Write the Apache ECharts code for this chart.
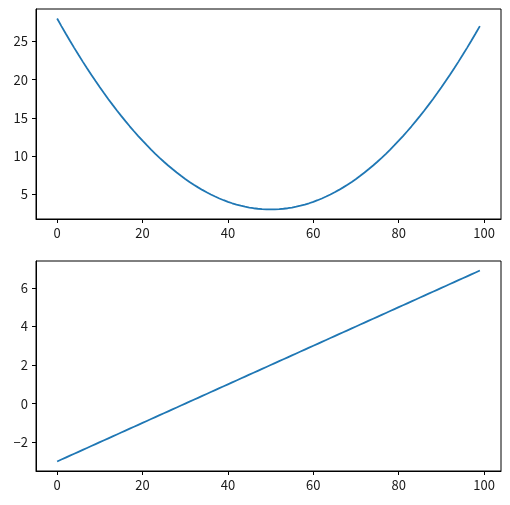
<!DOCTYPE html>
<html>
<head>
<meta charset="utf-8">
<script src="https://cdn.jsdelivr.net/npm/echarts@6/dist/echarts.min.js"></script>
<style>html,body{margin:0;padding:0;background:#fff}#c{width:510px;height:505px}</style>
</head>
<body>
<div id="c"></div>
<script>
const xValues = Array.from({length: 100}, (_, i) => i);
const topValues = [28, 27.01, 26.04, 25.09, 24.16, 23.25, 22.36, 21.49, 20.64, 19.81,
  19, 18.21, 17.44, 16.69, 15.96, 15.25, 14.56, 13.89, 13.24, 12.61,
  12, 11.41, 10.84, 10.29, 9.76, 9.25, 8.76, 8.29, 7.84, 7.41,
  7, 6.61, 6.24, 5.89, 5.56, 5.25, 4.96, 4.69, 4.44, 4.21,
  4, 3.81, 3.64, 3.49, 3.36, 3.25, 3.16, 3.09, 3.04, 3.01,
  3, 3.01, 3.04, 3.09, 3.16, 3.25, 3.36, 3.49, 3.64, 3.81,
  4, 4.21, 4.44, 4.69, 4.96, 5.25, 5.56, 5.89, 6.24, 6.61,
  7, 7.41, 7.84, 8.29, 8.76, 9.25, 9.76, 10.29, 10.84, 11.41,
  12, 12.61, 13.24, 13.89, 14.56, 15.25, 15.96, 16.69, 17.44, 18.21,
  19, 19.81, 20.64, 21.49, 22.36, 23.25, 24.16, 25.09, 26.04, 27.01];
const bottomValues = [-3, -2.9, -2.8, -2.7, -2.6, -2.5, -2.4, -2.3, -2.2, -2.1,
  -2, -1.9, -1.8, -1.7, -1.6, -1.5, -1.4, -1.3, -1.2, -1.1,
  -1, -0.9, -0.8, -0.7, -0.6, -0.5, -0.4, -0.3, -0.2, -0.1,
  0, 0.1, 0.2, 0.3, 0.4, 0.5, 0.6, 0.7, 0.8, 0.9,
  1, 1.1, 1.2, 1.3, 1.4, 1.5, 1.6, 1.7, 1.8, 1.9,
  2, 2.1, 2.2, 2.3, 2.4, 2.5, 2.6, 2.7, 2.8, 2.9,
  3, 3.1, 3.2, 3.3, 3.4, 3.5, 3.6, 3.7, 3.8, 3.9,
  4, 4.1, 4.2, 4.3, 4.4, 4.5, 4.6, 4.7, 4.8, 4.9,
  5, 5.1, 5.2, 5.3, 5.4, 5.5, 5.6, 5.7, 5.8, 5.9,
  6, 6.1, 6.2, 6.3, 6.4, 6.5, 6.6, 6.7, 6.8, 6.9];
const xTicks = [0, 20, 40, 60, 80, 100];
const topYTicks = [5, 10, 15, 20, 25];
const bottomYTicks = [-2, 0, 2, 4, 6];

const FONT = '"Noto Sans CJK KR", "Noto Sans", sans-serif';
const fmt = v => String(v).replace('-', '\u2212');
function xAxis(idx) {
  return {
    type: 'value', gridIndex: idx, min: -4.95, max: 103.95,
    axisLine: {show: true, onZero: false, lineStyle: {color: '#000', width: 1}},
    splitLine: {show: false},
    axisTick: {show: true, length: 4, lineStyle: {color: '#000'}, customValues: xTicks},
    axisLabel: {color: '#1a1a1a', fontSize: 13, fontFamily: FONT, margin: 8, customValues: xTicks, formatter: fmt}
  };
}
function yAxis(idx, min, max, ticks) {
  return {
    type: 'value', gridIndex: idx, min: min, max: max,
    axisLine: {show: true, onZero: false, lineStyle: {color: '#000', width: 1}},
    splitLine: {show: false},
    axisTick: {show: true, length: 4, lineStyle: {color: '#000'}, customValues: ticks},
    axisLabel: {color: '#1a1a1a', fontSize: 13, fontFamily: FONT, margin: 8, customValues: ticks, formatter: fmt}
  };
}
const chart = echarts.init(document.getElementById('c'), null, {renderer: 'canvas'});
chart.setOption({
  animation: false,
  backgroundColor: '#fff',
  grid: [
    {left: 36, top: 9, width: 465, height: 210, show: true, borderColor: '#000', borderWidth: 1, backgroundColor: 'transparent'},
    {left: 36, top: 261, width: 465, height: 210, show: true, borderColor: '#000', borderWidth: 1, backgroundColor: 'transparent'}
  ],
  xAxis: [xAxis(0), xAxis(1)],
  yAxis: [yAxis(0, 1.75, 29.25, topYTicks), yAxis(1, -3.495, 7.395, bottomYTicks)],
  series: [
    {type: 'line', xAxisIndex: 0, yAxisIndex: 0, showSymbol: false, data: xValues.map((x, i) => [x, topValues[i]]), lineStyle: {color: '#1f77b4', width: 1.8}},
    {type: 'line', xAxisIndex: 1, yAxisIndex: 1, showSymbol: false, data: xValues.map((x, i) => [x, bottomValues[i]]), lineStyle: {color: '#1f77b4', width: 1.8}}
  ]
});
</script>
</body>
</html>
